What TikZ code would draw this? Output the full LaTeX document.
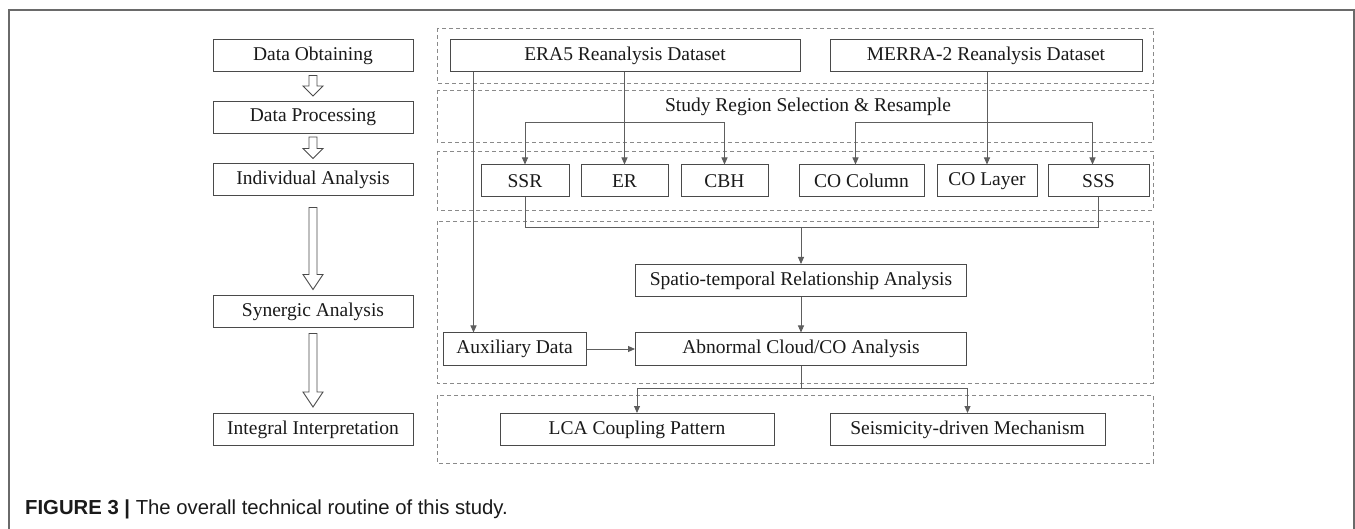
\documentclass[tikz,border=0pt]{standalone}
\usepackage{fontspec}
\setmainfont{Liberation Serif}
\setsansfont{Liberation Sans}
\usetikzlibrary{arrows.meta,calc}
\definecolor{boxc}{HTML}{4A4A4A}
\definecolor{linec}{HTML}{5E5E5E}
\definecolor{dashc}{HTML}{8A8A8A}
\definecolor{txtc}{HTML}{1A1A1A}
\definecolor{framec}{HTML}{6A6A6A}
\newcommand\hollowarrow[5]{%
  \draw[hollow] let \p1=(#1.south), \p2=(#2.north) in
    ({\x1-4pt},{\y1-#3pt}) -- ({\x1-4pt},{\y2+#4pt+#5pt}) -- ({\x1-10pt},{\y2+#4pt+#5pt})
    -- ({\x1},{\y2+#4pt}) -- ({\x1+10pt},{\y2+#4pt+#5pt}) -- ({\x1+4pt},{\y2+#4pt+#5pt})
    -- ({\x1+4pt},{\y1-#3pt}) -- cycle;}
\begin{document}
\begin{tikzpicture}[x=1pt,y=-1pt,
  bx/.style={draw=boxc, line width=1pt, inner sep=0pt, minimum height=32pt, text=txtc,
    font=\fontsize{19.5}{22}\selectfont},
  conn/.style={draw=linec, line width=0.9pt},
  tip/.style={-{Triangle[length=7pt,width=6pt]}},
  tips/.style={{Triangle[length=7pt,width=6pt]}-{Triangle[length=7pt,width=6pt]}},
  hollow/.style={draw=boxc, line width=0.9pt, fill=white},
  dbox/.style={draw=dashc, line width=0.9pt, dash pattern=on 4pt off 3pt},
  frame/.style={draw=framec, line width=1.5pt}]
\useasboundingbox (0,0) rectangle (1355,529);
\fill[white] (0,0) rectangle (1355,529);
% frame
\draw[frame] (9,529) -- (9,10) -- (1354,10) -- (1354,529);
% dashed groups
\draw[dbox] (437,28) rectangle (1153,83);
\draw[dbox] (437,90) rectangle (1153,142);
\draw[dbox] (437,151) rectangle (1153,210);
\draw[dbox] (437,221) rectangle (1153,383);
\draw[dbox] (437,395) rectangle (1153,463);
% left column
\node[bx, minimum width=200pt] (obt) at (313,56) {Data Obtaining};
\node[bx, minimum width=200pt] (pro) at (313,117.5) {Data Processing};
\node[bx, minimum width=200pt] (ind) at (313,180) {Individual Analysis};
\node[bx, minimum width=200pt] (syn) at (313,312) {Synergic Analysis};
\node[bx, minimum width=200pt] (int) at (313,429.5) {Integral Interpretation};
\hollowarrow{obt}{pro}{3}{5}{10}
\hollowarrow{pro}{ind}{3}{5}{10}
\hollowarrow{ind}{syn}{11}{6}{15}
\hollowarrow{syn}{int}{5}{6}{15}
% right side
\node[bx, minimum width=350pt] (era) at (625,56) {ERA5 Reanalysis Dataset};
\node[bx, minimum width=312pt] (mer) at (986,56) {MERRA-2 Reanalysis Dataset};
\node[text=txtc, inner sep=0pt, font=\fontsize{19.5}{22}\selectfont] (sel) at (808,107) {Study Region Selection \& Resample};
\node[bx, minimum width=88pt] (ssr) at (525,181) {SSR};
\node[bx, minimum width=87pt] (er) at (624.5,181) {ER};
\node[bx, minimum width=87pt] (cbh) at (724.5,181) {CBH};
\node[bx, minimum width=125pt] (coc) at (861.5,181) {CO Column};
\node[bx, minimum width=100pt] (col) at (987,181) {CO Layer};
\node[bx, minimum width=101pt] (sss) at (1098.5,181) {SSS};
\node[bx, minimum width=331pt] (spa) at (801,280.5) {Spatio-temporal Relationship Analysis};
\node[bx, minimum width=331pt] (abn) at (801,349) {Abnormal Cloud/CO Analysis};
\node[bx, minimum width=143pt] (aux) at (514.5,349) {Auxiliary Data};
\node[bx, minimum width=274pt] (lca) at (637,429.5) {LCA Coupling Pattern};
\node[bx, minimum width=275pt] (sei) at (967.5,429.5) {Seismicity-driven Mechanism};
\coordinate (brk) at (0,122);
\coordinate (mrg) at (0,227);
\coordinate (spl) at (0,388);
% connectors
\draw[conn,tip] ([xshift=24pt]era.south west) -- ([xshift=24pt]era.south west |- aux.north);
\draw[conn,tip] (er.north |- era.south) -- (er.north);
\draw[conn,tip] (col.north |- mer.south) -- (col.north);
\draw[conn,tips] (ssr.north) -- (ssr.north |- brk) -- (cbh.north |- brk) -- (cbh.north);
\draw[conn,tips] ([xshift=-6pt]coc.north) -- ([xshift=-6pt]coc.north |- brk) -- ([xshift=-6pt]sss.north |- brk) -- ([xshift=-6pt]sss.north);
\draw[conn] (ssr.south) -- (ssr.south |- mrg) -- (sss.south |- mrg) -- (sss.south);
\draw[conn,tip] (spa.north |- mrg) -- (spa.north);
\draw[conn,tip] (spa.south) -- (abn.north);
\draw[conn,tip] (aux.east) -- (abn.west);
\draw[conn] (abn.south) -- (abn.south |- spl);
\draw[conn,tips] (lca.north) -- (lca.north |- spl) -- (sei.north |- spl) -- (sei.north);
% caption
\node[anchor=base west, inner sep=0pt, text=txtc, font=\sffamily\fontsize{20.3}{23}\selectfont] (cap) at (25,514)
  {\textbf{FIGURE 3 |} The overall technical routine of this study.};
\end{tikzpicture}
\end{document}
